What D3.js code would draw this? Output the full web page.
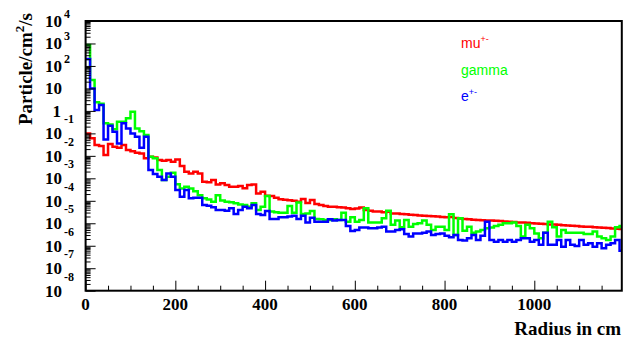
<!DOCTYPE html>
<html>
<head>
<meta charset="utf-8">
<script src="https://cdn.jsdelivr.net/npm/d3@7"></script>
<style>
  body { margin: 0; background: #fff; }
  svg text { font-family: "Liberation Serif", "DejaVu Serif", serif; font-weight: bold; }
</style>
</head>
<body>
<svg id="chart" width="628" height="348"></svg>
<script>
// log10 of the rate (particle/cm2/s) in each 10 cm radius bin
const muLog = [
  -1.00, -1.22, -1.52, -1.56, -1.96, -1.47, -1.59, -1.64, -1.52, -1.74,
  -1.79, -1.86, -1.89, -2.11, -2.04, -2.07, -2.19, -2.22, -2.19, -2.26,
  -2.16, -2.45, -2.71, -2.78, -2.71, -2.78, -3.15, -3.18, -3.08, -3.27,
  -3.22, -3.30, -3.37, -3.37, -3.34, -3.44, -3.30, -3.27, -3.67, -3.60,
  -3.78, -3.79, -3.86, -3.93, -3.95, -3.98, -4.00, -4.04, -3.92, -4.10,
  -3.96, -4.14, -4.19, -4.23, -4.26, -4.26, -4.29, -4.30, -4.33, -4.36,
  -4.34, -4.30, -4.41, -4.44, -4.48, -4.48, -4.51, -4.49, -4.56, -4.56,
  -4.59, -4.60, -4.62, -4.63, -4.65, -4.66, -4.68, -4.69, -4.70, -4.72,
  -4.73, -4.72, -4.76, -4.79, -4.81, -4.82, -4.84, -4.85, -4.87, -4.88,
  -4.88, -4.89, -4.90, -4.92, -4.93, -4.94, -4.96, -4.97, -4.98, -5.00,
  -5.01, -5.02, -5.03, -5.05, -5.06, -5.07, -5.09, -5.10, -5.11, -5.12,
  -5.14, -5.15, -5.16, -5.18, -5.19, -5.20, -5.21, -5.23, -5.24, -5.25
];
const gammaLog = [
   2.93,  1.37,  0.38,  0.32, -0.55, -0.60, -0.82, -0.48, -0.48, -0.33,
  -0.04, -0.78, -0.90, -1.07, -2.04, -2.11, -2.63, -3.08, -2.93, -2.75,
  -3.26, -3.45, -3.37, -3.45, -3.57, -3.75, -3.89, -3.94, -4.04, -3.75,
  -3.99, -4.04, -4.07, -4.11, -4.16, -4.19, -4.26, -4.11, -4.41, -4.26,
  -3.79, -4.48, -4.51, -4.53, -4.53, -4.23, -4.53, -4.08, -4.59, -4.56,
  -4.45, -4.81, -4.82, -4.85, -4.85, -4.82, -4.85, -4.53, -4.93, -4.73,
  -4.93, -4.85, -4.33, -4.97, -4.97, -4.97, -4.78, -4.44, -5.07, -4.88,
  -5.18, -4.85, -5.15, -5.03, -5.00, -4.88, -5.07, -5.30, -5.15, -5.15,
  -5.30, -4.60, -5.52, -4.78, -5.33, -5.15, -5.42, -5.37, -5.30, -5.22,
  -5.19, -5.12, -5.07, -5.00, -5.00, -4.97, -5.12, -5.59, -5.07, -5.22,
  -5.45, -5.67, -5.42, -4.93, -5.18, -5.59, -5.30, -5.42, -5.42, -5.42,
  -5.42, -5.48, -5.48, -5.37, -5.59, -5.67, -5.74, -5.59, -5.18, -5.12
];
const eLog = [
   2.31,  1.00,  0.04,  0.26, -1.27, -0.66, -0.93, -1.45, -0.55, -0.78,
  -1.00, -1.15, -1.64, -1.15, -2.63, -2.81, -2.93, -3.08, -2.78, -2.93,
  -3.52, -3.82, -3.52, -3.89, -3.86, -3.86, -4.19, -4.22, -4.29, -4.41,
  -4.41, -4.44, -4.33, -4.59, -4.41, -4.26, -4.33, -4.19, -4.59, -4.63,
  -4.45, -4.81, -4.81, -4.73, -4.73, -4.70, -4.67, -4.81, -4.67, -4.97,
  -4.75, -4.93, -4.93, -4.93, -4.82, -4.88, -4.85, -4.85, -5.12, -5.34,
  -5.30, -5.19, -5.19, -5.22, -5.22, -5.19, -5.15, -5.37, -5.37, -5.30,
  -5.27, -5.48, -5.59, -5.45, -5.45, -5.42, -5.37, -5.52, -5.48, -5.45,
  -5.56, -5.62, -5.52, -5.74, -5.77, -5.67, -5.52, -5.74, -5.56, -4.93,
  -5.74, -5.82, -5.74, -5.82, -5.74, -5.82, -5.74, -5.67, -5.67, -5.82,
  -5.74, -5.96, -5.42, -5.96, -5.96, -5.74, -6.04, -5.74, -5.96, -6.01,
  -5.74, -5.96, -5.89, -6.04, -5.89, -6.11, -5.96, -5.89, -5.74, -6.22
];

const binWidth = 10;               // cm
const xMax = 1195;
const xTickLabels = [0, 200, 400, 600, 800, 1000];
const yDecades = [4, 3, 2, 1, 0, -1, -2, -3, -4, -5, -6, -7, -8];

const series = [
  { label: "mu", sup: "+-", color: "#ff0000", vals: muLog },
  { label: "gamma", sup: "", color: "#00ff00", vals: gammaLog },
  { label: "e", sup: "+-", color: "#0000ff", vals: eLog }
];

const fLeft = 85.6, fRight = 621.8, fTop = 21, fBottom = 290.7;
const svg = d3.select("#chart");

const x = d3.scaleLinear().domain([0, xMax]).range([fLeft, fRight]);
const y = d3.scaleLog().domain([1e-8, 1e4]).range([fBottom, fTop]);

svg.append("defs").append("clipPath").attr("id", "frame")
  .append("rect").attr("x", fLeft).attr("y", fTop)
  .attr("width", fRight - fLeft).attr("height", fBottom - fTop);

// histograms as step lines
const line = d3.line()
  .x(d => x(d[0]))
  .y(d => y(Math.pow(10, d[1])))
  .curve(d3.curveStepAfter);

series.forEach(s => {
  const pts = s.vals.map((v, i) => [i * binWidth, v]);
  pts.push([s.vals.length * binWidth, s.vals[s.vals.length - 1]]);
  svg.append("path")
    .attr("clip-path", "url(#frame)")
    .attr("d", line(pts))
    .attr("fill", "none")
    .attr("stroke", s.color)
    .attr("stroke-width", 2.5)
    .attr("stroke-linejoin", "miter");
});

// y ticks (major + minor), pointing into the frame
const yMinor = [];
yDecades.slice(1).forEach(k => {
  for (let m = 2; m <= 9; m++) yMinor.push(m * Math.pow(10, k));
});
const yMajor = yDecades.map(k => Math.pow(10, k));

svg.append("g").attr("transform", `translate(${fLeft},0)`)
  .call(d3.axisRight(y).tickValues(yMinor).tickSize(5).tickSizeOuter(0).tickFormat(""))
  .call(g => g.select(".domain").remove());
svg.append("g").attr("transform", `translate(${fLeft},0)`)
  .call(d3.axisRight(y).tickValues(yMajor).tickSize(10).tickSizeOuter(0).tickFormat(""))
  .call(g => g.select(".domain").remove());

// x ticks
const xMinor = d3.range(50, xMax, 50).filter(v => v % 200 !== 0);
svg.append("g").attr("transform", `translate(0,${fBottom})`)
  .call(d3.axisTop(x).tickValues(xMinor).tickSize(5).tickSizeOuter(0).tickFormat(""))
  .call(g => g.select(".domain").remove());
svg.append("g").attr("transform", `translate(0,${fBottom})`)
  .call(d3.axisTop(x).tickValues(d3.range(0, xMax, 200)).tickSize(10).tickSizeOuter(0).tickFormat(""))
  .call(g => g.select(".domain").remove());

svg.selectAll(".tick line").attr("stroke", "#000").attr("stroke-width", 1);

// frame
svg.append("rect")
  .attr("x", fLeft).attr("y", fTop)
  .attr("width", fRight - fLeft).attr("height", fBottom - fTop)
  .attr("fill", "none").attr("stroke", "#000").attr("stroke-width", 2);

// y tick labels: 10 with raised exponent
yDecades.forEach(k => {
  const ty = y(Math.pow(10, k));
  if (k === 0) {
    svg.append("text").attr("x", 61).attr("y", ty + 6)
      .attr("text-anchor", "end").attr("font-size", 17).text("1");
    return;
  }
  svg.append("text").attr("x", 62).attr("y", ty + 6)
    .attr("text-anchor", "end").attr("font-size", 17).text("10");
  if (k !== 1) {
    svg.append("text").attr("x", 64).attr("y", k > 0 ? ty - 3 : ty - 10)
      .attr("font-size", 12).text(k);
  }
});

// x tick labels
xTickLabels.forEach(v => {
  svg.append("text").attr("x", x(v)).attr("y", 310)
    .attr("text-anchor", "middle").attr("font-size", 17).text(v);
});

// axis titles
svg.append("text").attr("x", 621).attr("y", 335)
  .attr("text-anchor", "end").attr("font-size", 19).text("Radius in cm");

const yt = svg.append("text")
  .attr("transform", "translate(32,69) rotate(-90)")
  .attr("text-anchor", "middle").attr("font-size", 19);
yt.append("tspan").text("Particle/cm");
yt.append("tspan").attr("dy", -8).attr("font-size", 13).text("2");
yt.append("tspan").attr("dy", 8).text("/s");

// legend
const legendY = [48, 75, 101];
series.forEach((s, i) => {
  const t = svg.append("text").attr("x", 461).attr("y", legendY[i])
    .attr("fill", s.color)
    .style("font-family", "'Liberation Sans', Arial, sans-serif")
    .style("font-weight", "normal")
    .attr("font-size", 14);
  t.append("tspan").text(s.label);
  if (s.sup) t.append("tspan").attr("dy", -6).attr("font-size", 9).text(s.sup);
});
</script>
</body>
</html>
